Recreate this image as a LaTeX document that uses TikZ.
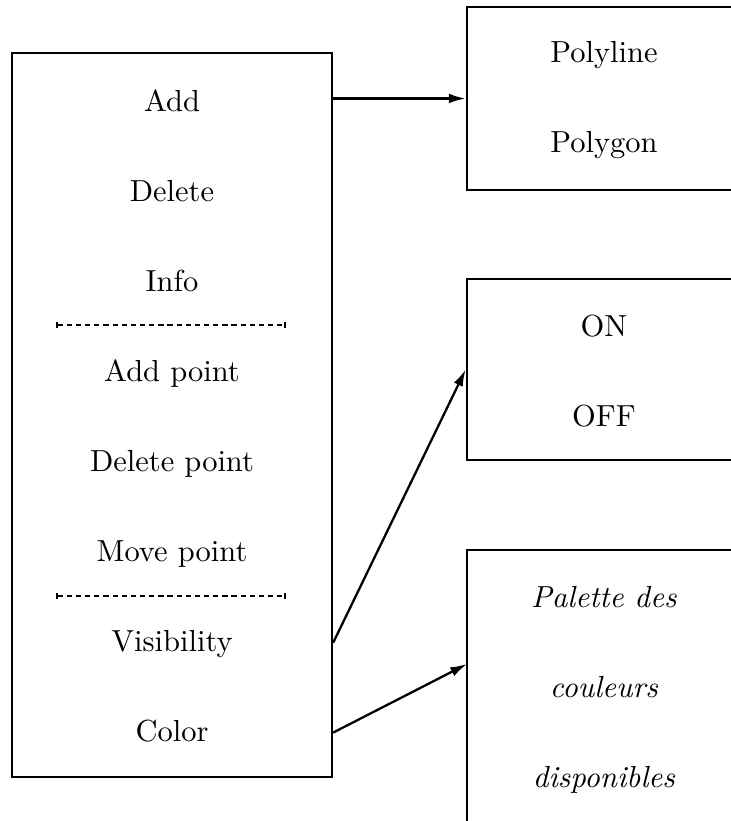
\documentclass[tikz,border=0pt]{standalone}
\usetikzlibrary{arrows.meta}

\tikzset{
  menubox/.style={draw, inner sep=0pt},
  item/.style={text height=1.6ex, text depth=.25ex, inner sep=0pt},
  sepline/.style={dash pattern=on 1.7pt off 1.3pt, {Bar[width=2pt]}-{Bar[width=2pt]}},
}

\begin{document}
\begin{tikzpicture}[x=0.328pt, y=-0.328pt, node distance=29.5pt,
    line width=0.75pt, >={Latex[length=5.5pt,width=3.2pt]}]
  \useasboundingbox (0,0) rectangle (731,821);
  \clip (0,0) rectangle (731,821);

  % main menu
  \node[menubox, minimum width=105pt, minimum height=237.5pt] (menu) at (172,415) {};
  \node[item] (add) at (172,103) {Add};
  \node[item] (delete) [below of=add] {Delete};
  \node[item] (info) [below of=delete] {Info};
  \node[item] (addpt) [below of=info] {Add point};
  \node[item] (delpt) [below of=addpt] {Delete point};
  \node[item] (movept) [below of=delpt] {Move point};
  \node[item] (visibility) [below of=movept] {Visibility};
  \node[item] (color) [below of=visibility] {Color};

  \draw[sepline] (56,325) -- (286,325);
  \draw[sepline] (56,596) -- (286,596);

  % sub menus
  \node[menubox, minimum width=90pt, minimum height=60pt] (shapes) at (604,98.5) {};
  \node[item] (polyline) at (604,54) {Polyline};
  \node[item] (polygon) [below of=polyline] {Polygon};

  \node[menubox, minimum width=90pt, minimum height=59.4pt] (onoff) at (604,369.5) {};
  \node[item] (on) at (604,328) {ON};
  \node[item] (off) [below of=on] {OFF};

  \node[menubox, minimum width=90pt, minimum height=91.2pt] (palette) at (604,689) {};
  \node[item] (pal1) at (604,599) {\textit{Palette des}};
  \node[item] (pal2) [below of=pal1] {\textit{couleurs}};
  \node[item] (pal3) [below of=pal2] {\textit{disponibles}};
  \coordinate (palin) at (467,664);

  \path[->]
  (menu.east |- shapes.west) edge (shapes.west)
  (menu.east |- visibility) edge (onoff.west)
  (menu.east |- color) edge (palin);
\end{tikzpicture}
\end{document}
